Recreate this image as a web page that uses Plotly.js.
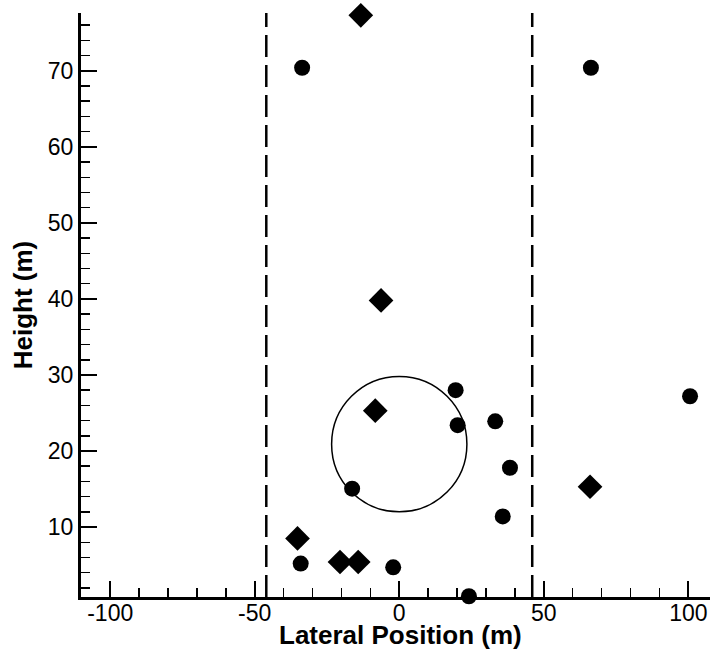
<!DOCTYPE html>
<html>
<head>
<meta charset="utf-8">
<script src="https://cdn.plot.ly/plotly-3.0.1.min.js"></script>
<style>
html,body{margin:0;padding:0;background:#fff;}
#chart{width:710px;height:650px;}
</style>
</head>
<body>
<div id="chart"></div>
<script>
// Filled circle markers
const circleX = [-33.6, 66.3, 19.5, 20.2, 33.2, 38.3, -16.3, 35.8, -34.1, -2.1, 24.1, 100.6];
const circleY = [70.4, 70.4, 28.0, 23.4, 23.9, 17.8, 15.05, 11.4, 5.2, 4.7, 0.9, 27.2];
// Filled diamond markers
const diamondX = [-13.3, -6.3, -8.3, -35.2, -20.5, -14.2, 66.0];
const diamondY = [77.3, 39.8, 25.3, 8.5, 5.4, 5.4, 15.3];
// Dashed vertical boundaries
const boundaryX = [-46, 46];
// Outline circle (center x, center y; radius in x, radius in y)
const ringCenter = [0, 20.9];
const ringRadius = [23.4, 8.9];
// Tick labels
const xTickVals = [-100, -50, 0, 50, 100];
const xTickText = ["-100", "-50", "0", "50", "100"];
const yTickVals = [10, 20, 30, 40, 50, 60, 70];
const yTickText = ["10", "20", "30", "40", "50", "60", "70"];
const xTitle = 'Lateral Position (m)';
const yTitle = 'Height (m)';

const traces = [
  {
    x: circleX, y: circleY, type: 'scatter', mode: 'markers',
    marker: {symbol: 'circle', size: 16, color: '#000', line: {width: 0}},
    cliponaxis: false, showlegend: false, hoverinfo: 'skip'
  },
  {
    x: diamondX, y: diamondY, type: 'scatter', mode: 'markers',
    marker: {symbol: 'diamond', size: 19, color: '#000', line: {width: 0}},
    cliponaxis: false, showlegend: false, hoverinfo: 'skip'
  }
];

const shapes = boundaryX.map(v => ({
  type: 'line', xref: 'x', yref: 'paper', x0: v, x1: v, y0: 0, y1: 1,
  line: {color: '#000', width: 2.5, dash: '22px,8px'}
}));
shapes.push({
  type: 'circle', xref: 'x', yref: 'y',
  x0: ringCenter[0] - ringRadius[0], x1: ringCenter[0] + ringRadius[0],
  y0: ringCenter[1] - ringRadius[1], y1: ringCenter[1] + ringRadius[1],
  line: {color: '#000', width: 1.5}
});

const layout = {
  width: 710, height: 650,
  margin: {l: 81, r: 0, t: 13, b: 53, pad: 0},
  paper_bgcolor: '#fff', plot_bgcolor: '#fff',
  font: {family: 'Liberation Sans, Arial, sans-serif', color: '#000', size: 23},
  showlegend: false,
  shapes: shapes,
  annotations: [{
    text: '<b>' + xTitle + '</b>', xref: 'paper', yref: 'paper',
    x: (400 - 81) / 629, y: (597 - 635) / 584, xanchor: 'center', yanchor: 'middle',
    showarrow: false, font: {size: 26, color: '#000'}
  }],
  xaxis: {
    range: [-110.1, 107.5], showgrid: false, zeroline: false,
    showline: true, linecolor: '#000', linewidth: 3, mirror: false,
    tickmode: 'array', tickvals: xTickVals, ticktext: xTickText,
    ticks: 'inside', ticklen: 16, tickwidth: 2, tickcolor: '#000',
    ticklabelstandoff: -7,
    minor: {dtick: 10, tick0: 0, ticks: 'inside', ticklen: 9, tickwidth: 1.5, tickcolor: '#000', showgrid: false},
    tickfont: {size: 23},
    automargin: false
  },
  yaxis: {
    range: [0.8, 77.6], showgrid: false, zeroline: false,
    showline: true, linecolor: '#000', linewidth: 3, mirror: false,
    tickmode: 'array', tickvals: yTickVals, ticktext: yTickText,
    ticks: 'inside', ticklen: 16, tickwidth: 2, tickcolor: '#000',
    ticklabelstandoff: 0,
    minor: {dtick: 2, tick0: 0, ticks: 'inside', ticklen: 9, tickwidth: 1.5, tickcolor: '#000', showgrid: false},
    tickfont: {size: 23},
    title: {text: '<b>' + yTitle + '</b>', font: {size: 26}, standoff: 8},
    automargin: false
  }
};

Plotly.newPlot('chart', traces, layout, {staticPlot: true, displayModeBar: false});
</script>
</body>
</html>
